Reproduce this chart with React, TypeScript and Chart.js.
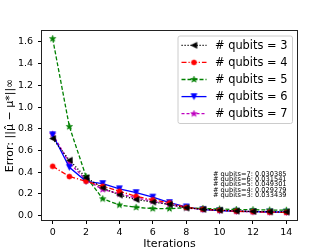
import React, { useEffect, useRef } from "react";
import { Chart, registerables } from "chart.js";

Chart.register(...registerables);

const iterations = [0, 1, 2, 3, 4, 5, 6, 7, 8, 9, 10, 11, 12, 13, 14];
const xTicks = [0, 2, 4, 6, 8, 10, 12, 14];
const yTicks = [0.0, 0.2, 0.4, 0.6, 0.8, 1.0, 1.2, 1.4, 1.6];

const q3 = [0.71, 0.51, 0.35, 0.255, 0.19, 0.147, 0.125, 0.104, 0.072, 0.058, 0.05, 0.042, 0.038, 0.035, 0.033439];
const q4 = [0.454, 0.36, 0.316, 0.27, 0.224, 0.178, 0.145, 0.117, 0.075, 0.058, 0.048, 0.04, 0.035, 0.031, 0.029279];
const q5 = [1.63, 0.82, 0.36, 0.154, 0.098, 0.076, 0.064, 0.064, 0.072, 0.066, 0.06, 0.056, 0.054, 0.051, 0.049301];
const q6 = [0.745, 0.445, 0.316, 0.295, 0.247, 0.212, 0.17, 0.12, 0.08, 0.055, 0.045, 0.04, 0.036, 0.033, 0.031541];
const q7 = [0.75, 0.485, 0.33, 0.24, 0.2, 0.163, 0.132, 0.1, 0.07, 0.057, 0.048, 0.041, 0.036, 0.033, 0.030385];

const seriesLabels = ["# qubits = 3", "# qubits = 4", "# qubits = 5", "# qubits = 6", "# qubits = 7"];
const annotationLines = [
  "# qubits=7: 0.030385",
  "# qubits=6: 0.031541",
  "# qubits=5: 0.049301",
  "# qubits=4: 0.029279",
  "# qubits=3: 0.033439",
];

const FONT = "'DejaVu Sans', sans-serif";

function makeMarker(kind: string, color: string): HTMLCanvasElement {
  const s = 9;
  const c = document.createElement("canvas");
  c.width = s;
  c.height = s;
  const ctx = c.getContext("2d")!;
  const cx = s / 2;
  const cy = s / 2;
  ctx.fillStyle = color;
  ctx.strokeStyle = color;
  ctx.lineWidth = 0.7;
  ctx.beginPath();
  if (kind === "circle") {
    ctx.arc(cx, cy, 2.5, 0, Math.PI * 2);
  } else if (kind === "left") {
    const r = 2.9;
    ctx.moveTo(cx - r, cy);
    ctx.lineTo(cx + r, cy - r);
    ctx.lineTo(cx + r, cy + r);
    ctx.closePath();
  } else if (kind === "down") {
    const r = 2.9;
    ctx.moveTo(cx, cy + r);
    ctx.lineTo(cx - r, cy - r);
    ctx.lineTo(cx + r, cy - r);
    ctx.closePath();
  } else {
    const R = 3.3;
    const ri = R * 0.4;
    for (let i = 0; i < 10; i++) {
      const a = -Math.PI / 2 + (i * Math.PI) / 5;
      const rr = i % 2 === 0 ? R : ri;
      const x = cx + rr * Math.cos(a);
      const y = cy + rr * Math.sin(a);
      if (i === 0) ctx.moveTo(x, y);
      else ctx.lineTo(x, y);
    }
    ctx.closePath();
  }
  ctx.fill();
  ctx.stroke();
  return c;
}

const frameLegendPlugin = {
  id: "frameLegend",
  afterDraw(chart: any) {
    const { ctx, chartArea } = chart;
    const { left, right, top, bottom } = chartArea;
    ctx.save();
    // frame
    ctx.strokeStyle = "#222";
    ctx.lineWidth = 1;
    ctx.setLineDash([]);
    ctx.strokeRect(left + 0.5, top + 0.5, right - left - 1, bottom - top - 1);

    // annotation text
    ctx.fillStyle = "#000";
    ctx.font = `6.6px ${FONT}`;
    ctx.textAlign = "left";
    ctx.textBaseline = "middle";
    annotationLines.forEach((t, i) => {
      ctx.fillText(t, left + 172, top + 144 + i * 5.3);
    });

    // legend
    const bx = right - 120;
    const by = top + 6;
    const bw = 114.5;
    const bh = 87.5;
    ctx.beginPath();
    const r = 2;
    ctx.moveTo(bx + r, by);
    ctx.lineTo(bx + bw - r, by);
    ctx.quadraticCurveTo(bx + bw, by, bx + bw, by + r);
    ctx.lineTo(bx + bw, by + bh - r);
    ctx.quadraticCurveTo(bx + bw, by + bh, bx + bw - r, by + bh);
    ctx.lineTo(bx + r, by + bh);
    ctx.quadraticCurveTo(bx, by + bh, bx, by + bh - r);
    ctx.lineTo(bx, by + r);
    ctx.quadraticCurveTo(bx, by, bx + r, by);
    ctx.closePath();
    ctx.fillStyle = "rgba(255,255,255,0.8)";
    ctx.fill();
    ctx.strokeStyle = "#cccccc";
    ctx.lineWidth = 1;
    ctx.stroke();

    chart.data.datasets.forEach((ds: any, i: number) => {
      const y = by + 9.3 + i * 17.1;
      const x0 = bx + 3.5;
      const x1 = bx + 28.5;
      ctx.beginPath();
      ctx.strokeStyle = ds.borderColor;
      ctx.lineWidth = ds.borderWidth;
      ctx.setLineDash(ds.borderDash || []);
      ctx.moveTo(x0, y);
      ctx.lineTo(x1, y);
      ctx.stroke();
      ctx.setLineDash([]);
      const img = ds.pointStyle as HTMLCanvasElement;
      ctx.drawImage(img, (x0 + x1) / 2 - img.width / 2, y - img.height / 2);
      ctx.fillStyle = "#000";
      ctx.font = `11.4px ${FONT}`;
      ctx.textAlign = "left";
      ctx.textBaseline = "middle";
      ctx.fillText(ds.label, bx + 37, y + 0.5);
    });
    ctx.restore();
  },
};

export default function App() {
  const ref = useRef<HTMLCanvasElement>(null);
  useEffect(() => {
    const styles = [
      { color: "#000000", marker: "left", dash: [1.2, 1.8] },
      { color: "#ff0000", marker: "circle", dash: [5, 2, 1.2, 2] },
      { color: "#008000", marker: "star", dash: [4, 2] },
      { color: "#0000ff", marker: "down", dash: [] },
      { color: "#bf00bf", marker: "star", dash: [3, 2] },
    ];
    const series = [q3, q4, q5, q6, q7];
    const datasets = series.map((vals, i) => {
      const img = makeMarker(styles[i].marker, styles[i].color);
      return {
        label: seriesLabels[i],
        data: iterations.map((x, j) => ({ x, y: vals[j] })),
        borderColor: styles[i].color,
        backgroundColor: styles[i].color,
        borderWidth: 1.3,
        borderDash: styles[i].dash,
        pointStyle: img,
        pointRadius: 3,
        tension: 0,
      };
    });
    const chart = new Chart(ref.current!, {
      type: "line",
      data: { datasets },
      options: {
        animation: false,
        responsive: false,
        layout: { padding: { left: 0, top: 30, right: 34, bottom: 0 } },
        plugins: { legend: { display: false }, tooltip: { enabled: false } },
        scales: {
          x: {
            type: "linear",
            min: -0.7,
            max: 14.7,
            afterBuildTicks: (s: any) => {
              s.ticks = xTicks.map((v) => ({ value: v }));
            },
            afterFit: (s: any) => {
              s.height = 28;
            },
            grid: { display: true, drawOnChartArea: false, drawTicks: true, tickLength: 3, color: "#000" },
            border: { display: false },
            ticks: { color: "#000", font: { family: FONT, size: 9.5 }, padding: 2.5, maxRotation: 0 },
            title: { display: true, text: "Iterations", color: "#000", font: { family: FONT, size: 11 }, padding: { top: 0, bottom: -1.5 } },
          },
          y: {
            type: "linear",
            min: -0.05,
            max: 1.71,
            afterBuildTicks: (s: any) => {
              s.ticks = yTicks.map((v) => ({ value: v }));
            },
            afterFit: (s: any) => {
              s.width = 41;
            },
            grid: { display: true, drawOnChartArea: false, drawTicks: true, tickLength: 3, color: "#000" },
            border: { display: false },
            ticks: {
              color: "#000",
              font: { family: FONT, size: 9.5 },
              padding: 5,
              callback: (v: any) => Number(v).toFixed(1),
            },
            title: { display: true, text: "Error: ||μ̂ − μ*||∞", color: "#000", font: { family: FONT, size: 11 }, padding: { top: 4, bottom: 0 } },
          },
        },
      },
      plugins: [frameLegendPlugin],
    } as any);
    return () => chart.destroy();
  }, []);
  return (
    <div style={{ position: "absolute", left: 0, top: 0, width: 332, height: 249, background: "#fff" }}>
      <canvas ref={ref} width={332} height={249} style={{ display: "block" }} />
    </div>
  );
}
